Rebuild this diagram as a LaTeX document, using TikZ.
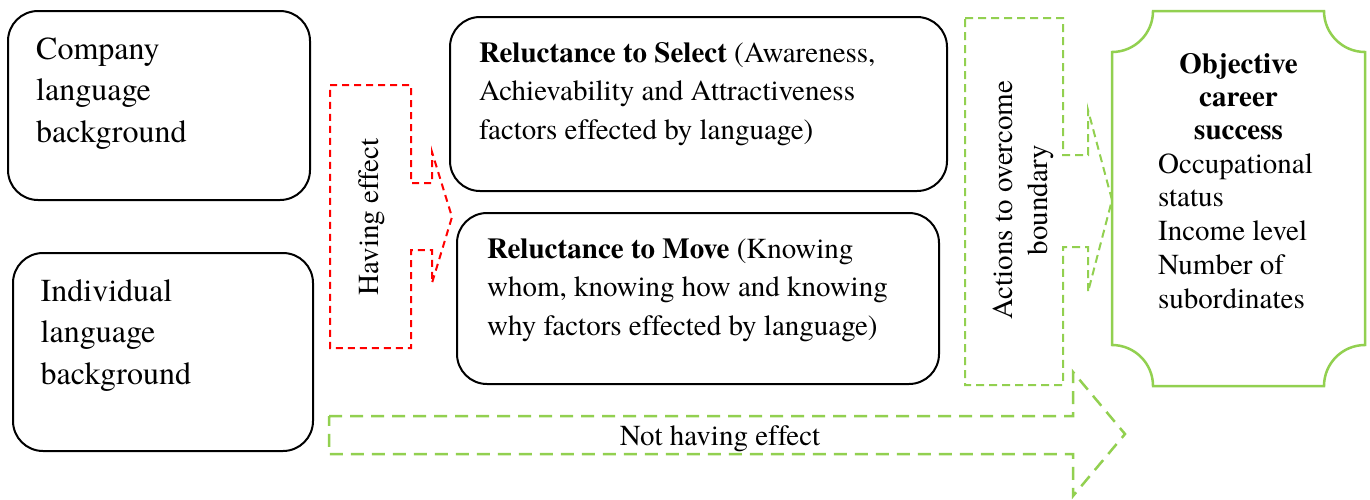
\documentclass[tikz,border=0pt]{standalone}
\usepackage{fontspec}
\setmainfont{texgyretermes}[Extension=.otf, UprightFont=*-regular, BoldFont=*-bold,
  ItalicFont=*-italic, BoldItalicFont=*-bolditalic, Ligatures={TeX,NoCommon}]
\definecolor{arrowred}{RGB}{255,0,0}
\definecolor{leafgreen}{RGB}{146,208,80}
% invisible strut that fixes the height of a first line (baseline sits 25pt below the top)
\newcommand{\firstline}{\rule{0pt}{25pt}}

\begin{document}
\begin{tikzpicture}[x=1pt,y=-1pt,
  roundbox/.style={draw=black, line width=2pt, rounded corners=30pt, inner sep=0pt},
  bodytext/.style={inner sep=0pt, anchor=north west, align=left},
  bigfont/.style={font=\fontsize{32}{41.5}\selectfont},
  midfont/.style={font=\fontsize{29}{38.7}\selectfont},
  sidefont/.style={font=\fontsize{29}{33.7}\selectfont},
  redarrow/.style={draw=arrowred, line width=2pt, dash pattern=on 7pt off 5pt},
  greenarrow/.style={draw=leafgreen, line width=2pt, dash pattern=on 8pt off 5pt},
  widearrow/.style={draw=leafgreen, line width=2.5pt, dash pattern=on 13pt off 8pt},
  plaque/.style={draw=leafgreen, line width=2.5pt},
]
\useasboundingbox (0,0) rectangle (1370,499);
\fill[white] (0,0) rectangle (1370,499);

% language background boxes
\node[roundbox, minimum width=302pt, minimum height=189pt] (company) at (159,105.5) {};
\node[roundbox, minimum width=300pt, minimum height=198pt] (individual) at (163,352) {};
\node[bodytext, bigfont] (companytext) at (36,34) {\firstline Company\\language\\background};
\node[bodytext, bigfont] (individualtext) at (40.5,276) {\firstline Individual\\language\\background};

% "Having effect" arrow
\draw[redarrow] (330,85) -- (411,85) -- (411,183) -- (432,183) -- (432,152) -- (452,217)
  -- (432,283) -- (432,250) -- (411,250) -- (411,348) -- (330,348) -- cycle;
\node[rotate=90, anchor=base, inner sep=0pt, sidefont] (havingtext) at (378,217) {Having effect};

% reluctance boxes
\node[roundbox, minimum width=497pt, minimum height=174pt] (select) at (698.5,104) {};
\node[roundbox, minimum width=482pt, minimum height=171pt] (move) at (698,298.5) {};
\node[bodytext, midfont] (selecttext) at (479,37)
  {\firstline\textbf{Reluctance to Select} (Awareness,\\Achievability and Attractiveness\\factors effected by language)};
\node[bodytext, midfont] (movetext) at (487,233)
  {\firstline\textbf{Reluctance to Move} (Knowing\\whom, knowing how and knowing\\why factors effected by language)};

% "Actions to overcome boundary" arrow
\draw[greenarrow] (965,18) -- (1063,18) -- (1063,155) -- (1088,155) -- (1088,110) -- (1112,200)
  -- (1088,292) -- (1088,247) -- (1063,247) -- (1063,385) -- (965,385) -- cycle;
\node[rotate=90, align=center, inner sep=0pt, font=\fontsize{29}{35}\selectfont] (actionstext)
  at (1023.5,200) {Actions to overcome\\boundary};

% "Not having effect" arrow
\draw[widearrow] (329,416) -- (1073,416) -- (1073,372) -- (1125,434) -- (1073,496)
  -- (1073,454) -- (329,454) -- cycle;
\node[anchor=base, inner sep=0pt, sidefont] (nottext) at (720,445) {Not having effect};

% objective career success plaque
\draw[plaque] (1112,52) arc[start angle=90, end angle=0, radius=41] -- (1324,11)
  arc[start angle=180, end angle=90, radius=41] -- (1365,345)
  arc[start angle=-90, end angle=-180, radius=41] -- (1153,386)
  arc[start angle=0, end angle=-90, radius=41] -- cycle;
\node[inner sep=0pt, anchor=north, align=center, font=\bfseries\fontsize{29}{33.3}\selectfont]
  (successhead) at (1238.5,48) {\firstline Objective\\career\\success};
\node[bodytext, sidefont] (successlist) at (1158,148)
  {\firstline Occupational\\status\\Income level\\Number of\\subordinates};
\end{tikzpicture}
\end{document}
